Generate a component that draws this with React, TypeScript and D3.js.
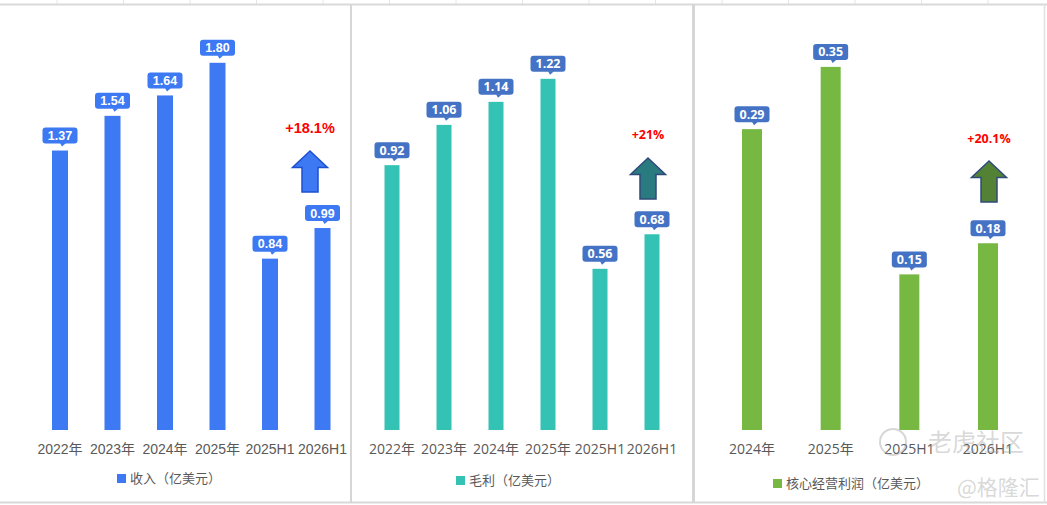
import * as d3 from "d3";

// chart data
const yearCats = ["2022年", "2023年", "2024年", "2025年", "2025H1", "2026H1"];
const revenue = [1.37, 1.54, 1.64, 1.8, 0.84, 0.99];
const grossProfit = [0.92, 1.06, 1.14, 1.22, 0.56, 0.68];
const coreCats = ["2024年", "2025年", "2025H1", "2026H1"];
const coreProfit = [0.29, 0.35, 0.15, 0.18];
const growthLabels = ["+18.1%", "+21%", "+20.1%"];
const legendNames = ["收入（亿美元）", "毛利（亿美元）", "核心经营利润（亿美元）"];

const W = 1047;
const H = 505;
const BASE = 430;

type PanelCfg = {
  cats: string[];
  values: number[];
  xRange: [number, number];
  barW: number;
  yMax: number;
  yTop: number;
  color: string;
  labelBg: string;
  labelFont: string;
  axisFont: string;
  legend: string;
  legendX: number;
  legendY: number;
  growth: string;
  growthSize: number;
  growthY: number;
  arrowDx: number;
  arrowTop: number;
  arrowFill: string;
  arrowStroke: string;
};

const panels: PanelCfg[] = [
  {
    cats: yearCats, values: revenue, xRange: [60, 322.5], barW: 16,
    yMax: 2, yTop: 22, color: "#3D79F2", labelBg: "#3D79F2",
    labelFont: "'Liberation Sans', Arial, sans-serif",
    axisFont: "'Liberation Sans', Arial, 'Noto Sans CJK SC', sans-serif",
    legend: legendNames[0], legendX: 117, legendY: 474,
    growth: growthLabels[0], growthSize: 14.5, growthY: 133,
    arrowDx: -12.5, arrowTop: 151, arrowFill: "#3D79F2", arrowStroke: "#1D4FD1",
  },
  {
    cats: yearCats, values: grossProfit, xRange: [392, 652], barW: 15,
    yMax: 1.4, yTop: 27, color: "#33C2B4", labelBg: "#4472C4",
    labelFont: "'Open Sans', 'Noto Sans', sans-serif",
    axisFont: "'Open Sans', 'Noto Sans CJK SC', sans-serif",
    legend: legendNames[1], legendX: 456, legendY: 476,
    growth: growthLabels[1], growthSize: 12.5, growthY: 139,
    arrowDx: -4, arrowTop: 158, arrowFill: "#2A7B80", arrowStroke: "#2F4A7A",
  },
  {
    cats: coreCats, values: coreProfit, xRange: [752, 988], barW: 20,
    yMax: 0.4, yTop: 15, color: "#77B842", labelBg: "#4472C4",
    labelFont: "'Open Sans', 'Noto Sans', sans-serif",
    axisFont: "'Open Sans', 'Noto Sans CJK SC', sans-serif",
    legend: legendNames[2], legendX: 773, legendY: 479,
    growth: growthLabels[2], growthSize: 12.5, growthY: 143,
    arrowDx: 1, arrowTop: 161, arrowFill: "#548235", arrowStroke: "#2F4B7C",
  },
];

function Panel({ cfg }: { cfg: PanelCfg }) {
  const x = d3.scalePoint<string>().domain(cfg.cats).range(cfg.xRange);
  const y = d3.scaleLinear().domain([0, cfg.yMax]).range([BASE, cfg.yTop]);
  const boxW = 35;
  const boxH = 16;
  const last = cfg.cats[cfg.cats.length - 1];
  const ax = (x(last) ?? 0) + cfg.arrowDx;
  const at = cfg.arrowTop;
  const arrowPts = [
    [ax, at], [ax + 17.5, at + 16.5], [ax + 8, at + 16.5], [ax + 8, at + 41],
    [ax - 8, at + 41], [ax - 8, at + 16.5], [ax - 17.5, at + 16.5],
  ].map((p) => p.join(",")).join(" ");

  return (
    <g>
      {cfg.cats.map((c, i) => {
        const cx = x(c) ?? 0;
        const top = y(cfg.values[i]);
        const bb = top - 7;
        return (
          <g key={c}>
            <rect x={cx - cfg.barW / 2} y={top} width={cfg.barW} height={BASE - top} fill={cfg.color} />
            <rect x={cx - boxW / 2} y={bb - boxH} width={boxW} height={boxH} rx={3} fill={cfg.labelBg} />
            <polygon points={`${cx},${bb - 0.5} ${cx + 6},${bb - 0.5} ${cx + 2},${bb + 3}`} fill={cfg.labelBg} />
            <text x={cx} y={bb - 3.5} textAnchor="middle" fill="#fff" fontWeight="bold" fontSize={12.5}
              fontFamily={cfg.labelFont}>
              {cfg.values[i].toFixed(2)}
            </text>
            <text x={cx} y={454} textAnchor="middle" fill="#595959" fontSize={14} fontFamily={cfg.axisFont}>
              {c}
            </text>
          </g>
        );
      })}
      <text x={ax} y={cfg.growthY} textAnchor="middle" fill="#FF0000" fontWeight="bold"
        fontSize={cfg.growthSize} fontFamily={cfg.labelFont}>
        {cfg.growth}
      </text>
      <polygon points={arrowPts} fill={cfg.arrowFill} stroke={cfg.arrowStroke} strokeWidth={1.5} strokeLinejoin="miter" />
      <rect x={cfg.legendX} y={cfg.legendY} width={9} height={9} fill={cfg.color} />
      <text x={cfg.legendX + 13} y={cfg.legendY + 9} fill="#595959" fontSize={13}
        fontFamily="'Noto Sans CJK SC', sans-serif">
        {cfg.legend}
      </text>
    </g>
  );
}

export default function App() {
  const gridX = d3.range(57, W, 66.5);
  return (
    <svg width={W} height={H} style={{ position: "absolute", left: 0, top: 0, background: "#fff" }}>
      <rect x={0} y={0} width={W} height={H} fill="#fff" />
      {gridX.map((gx) => (
        <line key={gx} x1={gx} x2={gx} y1={0} y2={4} stroke="#e6e6e6" strokeWidth={1} />
      ))}
      <line x1={0} x2={W} y1={4.5} y2={4.5} stroke="#d9d9d9" strokeWidth={2} />
      <line x1={0} x2={W} y1={502.5} y2={502.5} stroke="#d9d9d9" strokeWidth={2} />
      <line x1={351} x2={351} y1={4} y2={503} stroke="#d6d6d6" strokeWidth={2} />
      <line x1={693.5} x2={693.5} y1={4} y2={503} stroke="#d6d6d6" strokeWidth={3} />
      <line x1={1044.5} x2={1044.5} y1={4} y2={503} stroke="#e0e0e0" strokeWidth={1.5} />
      {panels.map((p, i) => (
        <Panel key={i} cfg={p} />
      ))}
      {/* watermarks */}
      <g fill="#9a9a9a" fillOpacity={0.4} fontFamily="'Noto Sans CJK SC', sans-serif">
        <circle cx={893} cy={442} r={13} fill="none" stroke="#9a9a9a" strokeOpacity={0.4} strokeWidth={2} />
        <text x={928} y={451} fontSize={24}>老虎社区</text>
        <text x={957} y={495} fontSize={21}>@格隆汇</text>
      </g>
    </svg>
  );
}
